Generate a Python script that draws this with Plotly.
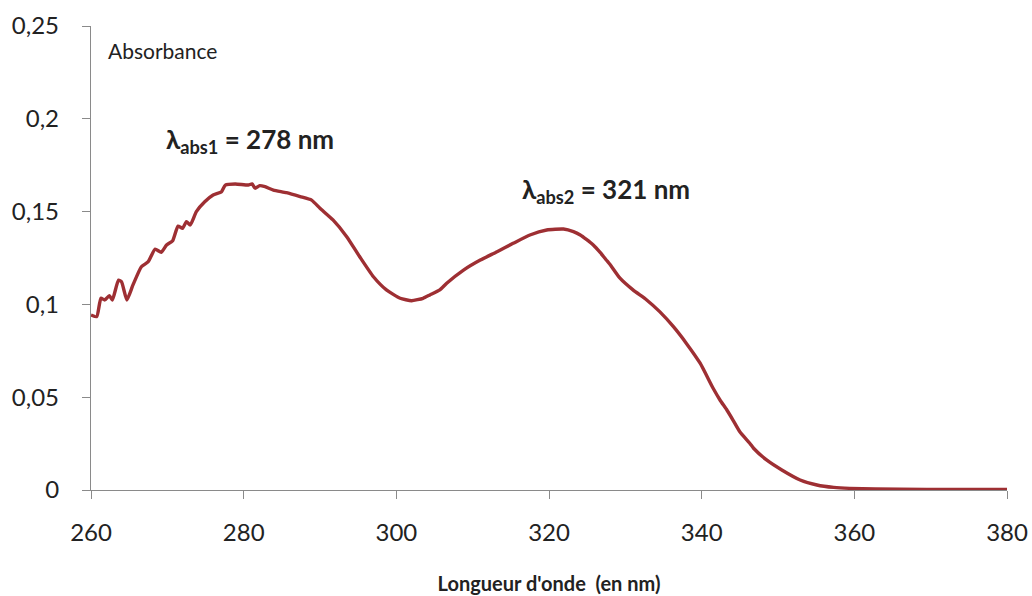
import plotly.graph_objects as go

wavelength = [260.0, 260.75, 261.3, 261.8, 262.4, 262.8, 263.6, 264.0, 264.7, 265.5,
              266.6, 267.5, 268.4, 269.2, 269.9, 270.7, 271.4, 272.0, 272.5, 273.0,
              273.8, 274.9, 276.0, 277.1, 277.6, 278.9, 280.6, 281.1, 281.5, 282.1,
              282.8, 283.9, 285.6, 287.4, 288.9, 290.0, 291.7, 293.5, 295.2, 297.0,
              298.7, 300.5, 302.0, 303.5, 304.4, 305.7, 306.6, 308.8, 311.0, 313.2,
              315.3, 317.5, 319.7, 321.9, 323.2, 324.1, 324.9, 325.8, 326.7, 327.6,
              328.0, 329.3, 331.0, 332.8, 334.5, 336.3, 338.0, 339.8, 341.5, 342.4,
              343.3, 344.1, 345.0, 346.3, 346.8, 348.5, 350.5, 352.9, 355.1, 357.3,
              359.4, 366.0, 373.0, 380.0]
absorbance = [0.0943, 0.0934, 0.1033, 0.1024, 0.1047, 0.1024, 0.1131, 0.1122, 0.1024, 0.1105,
              0.1203, 0.1230, 0.1298, 0.1281, 0.1320, 0.1343, 0.1422, 0.1410, 0.1446, 0.1428,
              0.1500, 0.1553, 0.1589, 0.1607, 0.1643, 0.1649, 0.1643, 0.1649, 0.1626, 0.1640,
              0.1634, 0.1616, 0.1602, 0.1581, 0.1562, 0.1518, 0.1455, 0.1365, 0.1257, 0.1149,
              0.1078, 0.1033, 0.1020, 0.1033, 0.1051, 0.1078, 0.1114, 0.1185, 0.1239, 0.1284,
              0.1329, 0.1374, 0.1401, 0.1406, 0.1392, 0.1374, 0.1350, 0.1320, 0.1280, 0.1235,
              0.1215, 0.1141, 0.1078, 0.1024, 0.0961, 0.0880, 0.0790, 0.0683, 0.0548, 0.0485,
              0.0431, 0.0377, 0.0314, 0.0252, 0.0225, 0.0162, 0.0108, 0.0054, 0.0027, 0.0014,
              0.0009, 0.0004, 0.0003, 0.0003]

x_ticks = [260, 280, 300, 320, 340, 360, 380]
y_ticks = [0, 0.05, 0.1, 0.15, 0.2, 0.25]
y_tick_labels = ["0", "0,05", "0,1", "0,15", "0,2", "0,25"]

FONT = "Lato"
AXIS_COLOR = "#8a8a8a"
TEXT_COLOR = "#222222"

fig = go.Figure()
fig.add_trace(go.Scatter(
    x=wavelength, y=absorbance, mode="lines",
    line=dict(color="#9E2F33", width=3.4, shape="spline", smoothing=0.5),
    hoverinfo="x+y", showlegend=False,
))

fig.update_layout(
    width=1032, height=596,
    margin=dict(l=91, r=25, t=26, b=106, autoexpand=False),
    paper_bgcolor="white", plot_bgcolor="white",
    font=dict(family=FONT, color=TEXT_COLOR, size=24),
    xaxis=dict(
        range=[260, 380], tickvals=x_ticks, showgrid=False, zeroline=False,
        showline=True, linecolor=AXIS_COLOR, linewidth=1.3,
        ticks="outside", ticklen=8, tickcolor=AXIS_COLOR, tickwidth=1.3,
        ticklabelstandoff=13, automargin=False, ticklabeloverflow="allow",
        tickfont=dict(family=FONT, size=24, color=TEXT_COLOR),
        title=dict(text="<b>Longueur d'onde  (en nm)</b>", standoff=32,
                   font=dict(family=FONT, size=20, color=TEXT_COLOR)),
    ),
    yaxis=dict(
        range=[0, 0.25], tickvals=y_ticks, ticktext=y_tick_labels,
        showgrid=False, zeroline=False,
        showline=True, linecolor=AXIS_COLOR, linewidth=1.3,
        ticks="outside", ticklen=8, tickcolor=AXIS_COLOR, tickwidth=1.3,
        ticklabelstandoff=18, automargin=False,
        tickfont=dict(family=FONT, size=24, color=TEXT_COLOR),
    ),
    annotations=[
        dict(text="Absorbance", xref="paper", yref="paper", x=0.016, y=0.947,
             xanchor="left", yanchor="middle", showarrow=False,
             font=dict(family=FONT, size=21, color=TEXT_COLOR)),
        dict(text="<b>λ<sub>abs1</sub> = 278 nm</b>", xref="x", yref="y",
             x=269.5, y=0.1884, xanchor="left", yanchor="middle", showarrow=False,
             font=dict(family=FONT, size=26, color=TEXT_COLOR)),
        dict(text="<b>λ<sub>abs2</sub> = 321 nm</b>", xref="x", yref="y",
             x=316.2, y=0.1614, xanchor="left", yanchor="middle", showarrow=False,
             font=dict(family=FONT, size=26, color=TEXT_COLOR)),
    ],
)

# remove the default page margin/scrollbars so the figure fills the window exactly
page_fix = ("document.body.style.margin='0';"
            "document.documentElement.style.overflow='hidden';"
            "document.body.style.overflow='hidden';")

fig.write_html("out.html", post_script=page_fix,
               config={"displayModeBar": False})
